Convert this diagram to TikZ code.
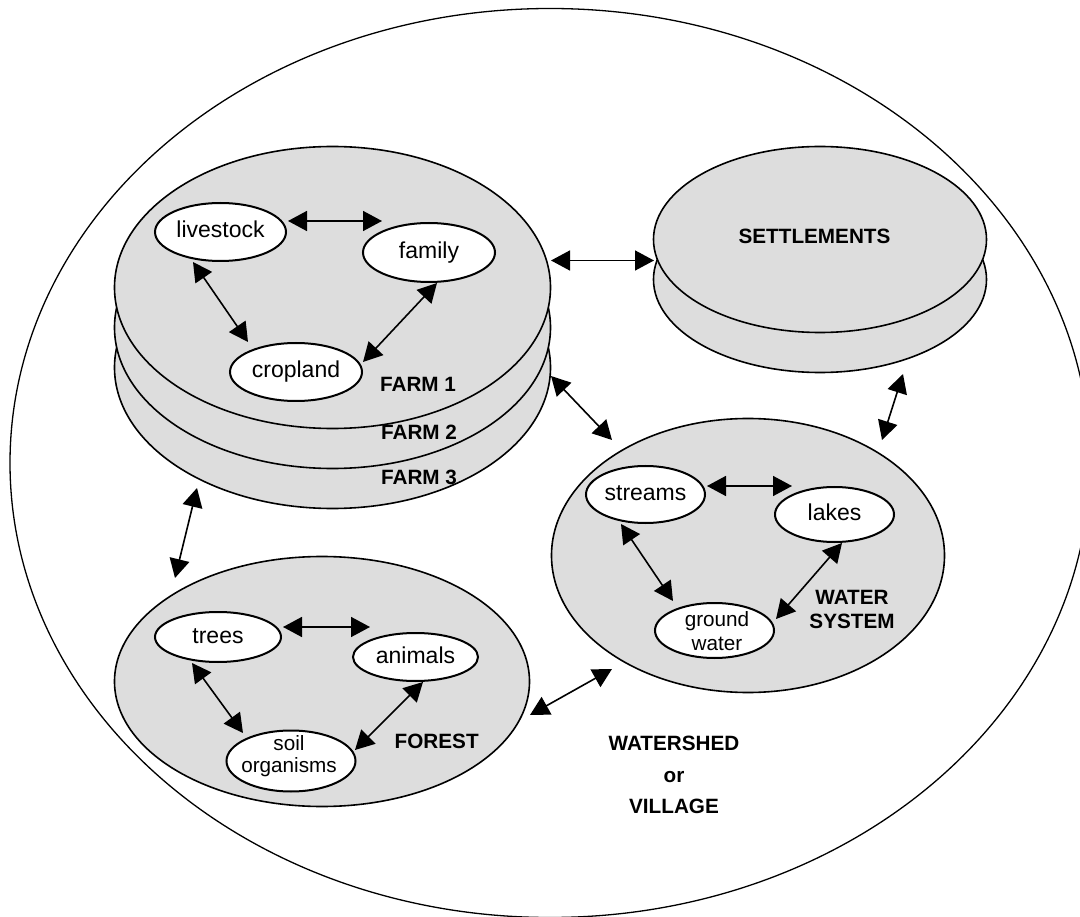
\documentclass[tikz,border=0pt]{standalone}
\usepackage{fontspec}
\setmainfont{Liberation Sans}
\usetikzlibrary{shapes.geometric,arrows.meta}
\definecolor{diskgray}{RGB}{221,221,221}
\tikzset{
  disk/.style={ellipse, draw=black, line width=1.6pt, fill=diskgray, inner sep=0pt},
  part/.style={ellipse, draw=black, line width=2pt, fill=white, inner sep=0pt,
    font=\fontsize{23}{27}\selectfont, text height=16.5pt, text depth=4.5pt},
  smalltext/.style={font=\fontsize{20.7}{24}\selectfont, align=center, inner sep=0pt},
  tag/.style={font=\bfseries\fontsize{20.7}{24}\selectfont, inner sep=0pt,
    text height=14.8pt, text depth=0pt},
  tagblock/.style={font=\bfseries\fontsize{20.7}{24}\selectfont, inner sep=0pt, align=center},
  link/.style={line width=1.6pt,
    {Triangle[length=19pt,width=20pt]}-{Triangle[length=19pt,width=20pt]}},
}
\begin{document}
\begin{tikzpicture}[x=1pt,y=-1pt]
\useasboundingbox (0,0) rectangle (1080,917);
\clip (0,0) rectangle (1080,917);

% watershed boundary
\node[draw, ellipse, line width=1.3pt, inner sep=0pt,
      minimum width=1080pt, minimum height=909pt] (watershed) at (550,463) {};

% stacked farms
\node[disk, minimum width=436pt, minimum height=282pt] (farm3) at (332.5,367.5) {};
\node[disk, minimum width=436pt, minimum height=282pt] (farm2) at (332.5,327.5) {};
\node[disk, minimum width=436pt, minimum height=282pt] (farm1) at (332.5,287.5) {};

% settlements
\node[disk, minimum width=333pt, minimum height=186pt] (settle2) at (820,279.5) {};
\node[disk, minimum width=333pt, minimum height=186pt] (settle1) at (820,239.5) {};

% water system and forest
\node[disk, minimum width=393pt, minimum height=274pt] (water) at (748,555.5) {};
\node[disk, minimum width=415pt, minimum height=250pt] (forest) at (322,681.5) {};

% farm components
\node[part, minimum width=131pt, minimum height=58pt] (livestock) at (220.5,232) {livestock};
\node[part, minimum width=132pt, minimum height=59pt] (family) at (429,252.5) {family};
\node[part, minimum width=132pt, minimum height=58pt] (cropland) at (296,372) {cropland};

% water components
\node[part, minimum width=119pt, minimum height=57pt] (streams) at (645.5,494.5) {streams};
\node[part, minimum width=119pt, minimum height=55pt] (lakes) at (834.5,514.5) {lakes};
\node[part, minimum width=119pt, minimum height=55pt] (groundwater) at (714.5,630.5) {};
\node[smalltext] (groundwater-text) at (717,631) {ground\\water};

% forest components
\node[part, minimum width=126pt, minimum height=50pt] (trees) at (218,637) {trees};
\node[part, minimum width=125pt, minimum height=48pt] (animals) at (415.5,657) {animals};
\node[part, minimum width=129pt, minimum height=61pt] (soil) at (291,761) {};
\node[smalltext, font=\fontsize{20.7}{22.7}\selectfont] (soil-text) at (289,756) {soil\\organisms};

% labels
\node[tag] (farm1-label) at (418,384.5) {FARM 1};
\node[tag] (farm2-label) at (419,432.5) {FARM 2};
\node[tag] (farm3-label) at (419,477.5) {FARM 3};
\node[tag] (settle-label) at (814.5,235.8) {SETTLEMENTS};
\node[tagblock] (water-label) at (852,609) {WATER\\SYSTEM};
\node[tag] (forest-label) at (436.7,740.8) {FOREST};
\node[tagblock, font=\bfseries\fontsize{20.7}{31.5}\selectfont] (watershed-label) at (674,775) {WATERSHED\\or\\VILLAGE};

% arrow end points
\coordinate (ls-fa) at (288,221);   \coordinate (fa-ls) at (382,221);
\coordinate (ls-cr) at (193,262);   \coordinate (cr-ls) at (248,342);
\coordinate (fa-cr) at (437,283);   \coordinate (cr-fa) at (363,362);
\coordinate (tr-an) at (283,627);   \coordinate (an-tr) at (370,627);
\coordinate (tr-so) at (192,663);   \coordinate (so-tr) at (243,733);
\coordinate (an-so) at (423,682);   \coordinate (so-an) at (355,750);
\coordinate (st-la) at (707,486);   \coordinate (la-st) at (792,486);
\coordinate (st-gw) at (621,524);   \coordinate (gw-st) at (673,601);
\coordinate (la-gw) at (842,543);   \coordinate (gw-la) at (776,619);
\coordinate (fm-se) at (551,260.5); \coordinate (se-fm) at (654,260.5);
\coordinate (fm-wa) at (551,376);   \coordinate (wa-fm) at (612,440);
\coordinate (se-wa) at (903,374);   \coordinate (wa-se) at (882,440);
\coordinate (fm-fo) at (197,488);   \coordinate (fo-fm) at (175,578);
\coordinate (fo-wa) at (530,715);   \coordinate (wa-fo) at (612,669);

% links inside the farm
\draw[link] (ls-fa) -- (fa-ls);
\draw[link] (ls-cr) -- (cr-ls);
\draw[link] (fa-cr) -- (cr-fa);
% links inside the forest
\draw[link] (tr-an) -- (an-tr);
\draw[link] (tr-so) -- (so-tr);
\draw[link] (an-so) -- (so-an);
% links inside the water system
\draw[link] (st-la) -- (la-st);
\draw[link] (st-gw) -- (gw-st);
\draw[link] (la-gw) -- (gw-la);
% links between the subsystems
\draw[link] (fm-se) -- (se-fm);
\draw[link] (fm-wa) -- (wa-fm);
\draw[link] (se-wa) -- (wa-se);
\draw[link] (fm-fo) -- (fo-fm);
\draw[link] (fo-wa) -- (wa-fo);
\end{tikzpicture}
\end{document}
